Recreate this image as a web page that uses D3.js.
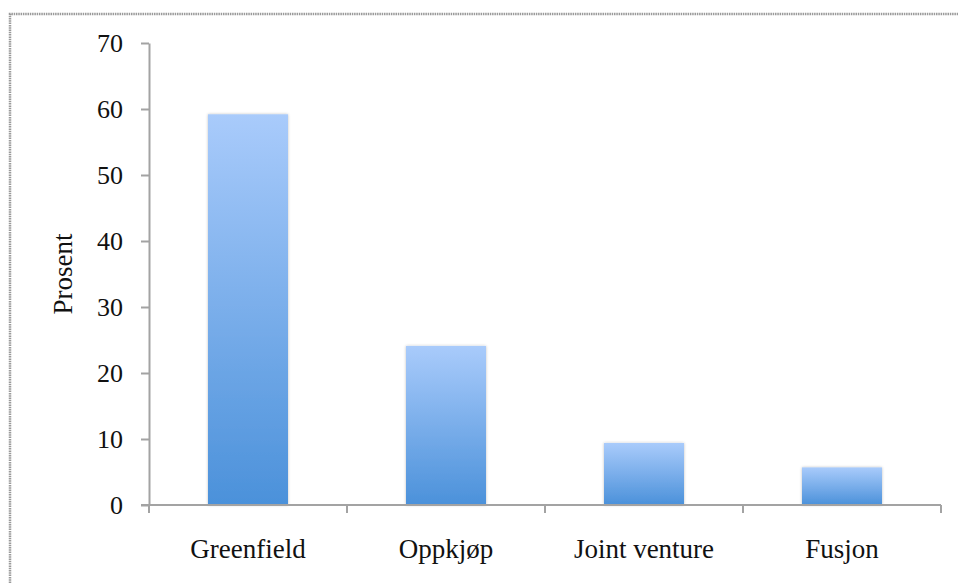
<!DOCTYPE html>
<html>
<head>
<meta charset="utf-8">
<script src="https://cdn.jsdelivr.net/npm/d3@7"></script>
<style>
  html, body { margin: 0; padding: 0; background: #fff; }
  svg { display: block; }
  text { font-family: "Liberation Serif", "DejaVu Serif", serif; fill: #111; }
</style>
</head>
<body>
<script>
// Andel etableringsformer (prosent)
const categories = ["Greenfield", "Oppkjøp", "Joint venture", "Fusjon"];
const values = [59.2, 24.1, 9.4, 5.7];
const yTicks = [0, 10, 20, 30, 40, 50, 60, 70];
const yLabel = "Prosent";

const W = 958, H = 583;
const margin = { left: 149, right: 17, top: 43, bottom: 78 };

const svg = d3.select("body").append("svg")
  .attr("width", W).attr("height", H);

const defs = svg.append("defs");
const grad = defs.append("linearGradient")
  .attr("id", "barFill")
  .attr("x1", 0).attr("y1", 0).attr("x2", 0).attr("y2", 1);
grad.append("stop").attr("offset", "0%").attr("stop-color", "#a9cbfb");
grad.append("stop").attr("offset", "100%").attr("stop-color", "#4b91da");

const shadow = defs.append("filter").attr("id", "barShadow")
  .attr("x", "-20%").attr("y", "-20%").attr("width", "140%").attr("height", "140%");
shadow.append("feGaussianBlur").attr("in", "SourceAlpha").attr("stdDeviation", 1.5).attr("result", "b");
shadow.append("feComponentTransfer").attr("in", "b").attr("result", "s")
  .append("feFuncA").attr("type", "linear").attr("slope", 0.25);
const merge = shadow.append("feMerge");
merge.append("feMergeNode").attr("in", "s");
merge.append("feMergeNode").attr("in", "SourceGraphic");

// outer frame (dotted edge along top and left)
svg.append("path")
  .attr("d", `M10,${H} L10,14 L${W},14`)
  .attr("fill", "none")
  .attr("stroke", "#9a9a9a")
  .attr("stroke-width", 2.5)
  .attr("stroke-dasharray", "1.5 0.8");

const x = d3.scaleBand()
  .domain(categories)
  .range([margin.left, W - margin.right])
  .paddingInner(0.596)
  .paddingOuter(0.298);

const y = d3.scaleLinear()
  .domain([0, 70])
  .range([H - margin.bottom, margin.top]);

// bars
svg.append("g").selectAll("rect")
  .data(categories.map((c, i) => ({ c, v: values[i] })))
  .join("rect")
  .attr("x", d => x(d.c))
  .attr("width", x.bandwidth())
  .attr("y", d => y(d.v))
  .attr("height", d => y(0) - y(d.v))
  .attr("fill", "url(#barFill)")
  .attr("filter", "url(#barShadow)");

const axisColor = "#a3a3a3";

// y axis
const yAxis = svg.append("g")
  .attr("transform", `translate(${margin.left},0)`)
  .call(d3.axisLeft(y).tickValues(yTicks).tickSize(8).tickPadding(18).tickSizeOuter(0));
yAxis.select(".domain").attr("stroke", axisColor).attr("stroke-width", 2);
yAxis.selectAll(".tick line").attr("stroke", axisColor).attr("stroke-width", 2);
yAxis.selectAll(".tick text")
  .attr("font-size", 26)
  .attr("font-family", "Liberation Serif, serif")
  .attr("fill", "#111");

// x axis: ticks sit on the band boundaries
const xAxisG = svg.append("g").attr("transform", `translate(0,${y(0)})`);
const bounds = d3.range(categories.length + 1).map(i => margin.left + i * (W - margin.right - margin.left) / categories.length);
xAxisG.append("line")
  .attr("x1", margin.left - 8).attr("x2", W - margin.right)
  .attr("stroke", axisColor).attr("stroke-width", 2);
xAxisG.selectAll("line.tk")
  .data(bounds)
  .join("line").attr("class", "tk")
  .attr("x1", d => d).attr("x2", d => d)
  .attr("y1", 0).attr("y2", 8)
  .attr("stroke", axisColor).attr("stroke-width", 2);
xAxisG.selectAll("text")
  .data(categories)
  .join("text")
  .attr("x", d => x(d) + x.bandwidth() / 2)
  .attr("y", 53)
  .attr("text-anchor", "middle")
  .attr("font-size", 27)
  .text(d => d);

// y axis title
svg.append("text")
  .attr("transform", `translate(72,${(y(0) + y(70)) / 2}) rotate(-90)`)
  .attr("text-anchor", "middle")
  .attr("font-size", 27)
  .text(yLabel);
</script>
</body>
</html>
